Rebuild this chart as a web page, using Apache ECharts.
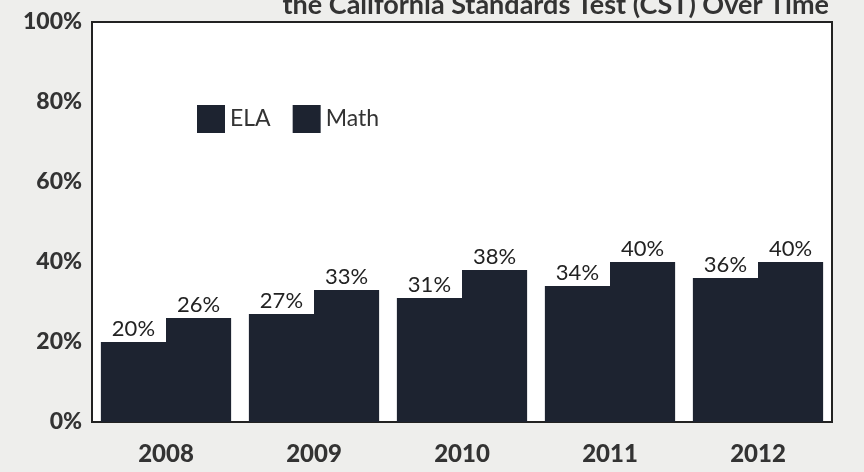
<!DOCTYPE html>
<html>
<head>
<meta charset="utf-8">
<script src="https://cdn.jsdelivr.net/npm/echarts@6/dist/echarts.min.js"></script>
<style>
  html, body { margin: 0; padding: 0; background: #eeeeec; }
  #chart { width: 864px; height: 472px; }
</style>
</head>
<body>
<div id="chart"></div>
<script>
// CST の推移（ELA / Math）
const years = ['2008', '2009', '2010', '2011', '2012'];
const elaValues = [20, 27, 31, 34, 36];
const mathValues = [26, 33, 38, 40, 40];
const yTicks = ['0%', '20%', '40%', '60%', '80%', '100%'];

const chart = echarts.init(document.getElementById('chart'));
const barColor = '#1d2330';
const font = 'Lato, "Open Sans", sans-serif';

const labelStyle = {
  show: true,
  position: 'top',
  distance: 2,
  formatter: '{c}%',
  color: '#222',
  fontSize: 22,
  fontFamily: font
};

const option = {
  backgroundColor: '#eeeeec',
  title: {
    text: 'the California Standards Test (CST) Over Time',
    right: 30,
    top: -13,
    textStyle: { fontSize: 27, fontWeight: 'bold', color: '#333', fontFamily: font }
  },
  legend: {
    data: ['ELA', 'Math'],
    left: 192,
    top: 100,
    itemWidth: 28,
    itemHeight: 28,
    itemGap: 22,
    icon: 'rect',
    textStyle: { fontSize: 23, color: '#333', fontFamily: font }
  },
  grid: {
    left: 92,
    right: 32,
    top: 22,
    bottom: 50,
    show: true,
    backgroundColor: '#ffffff',
    borderColor: '#222',
    borderWidth: 2
  },
  xAxis: {
    type: 'category',
    data: years,
    axisLine: { show: false },
    axisTick: { show: false },
    axisLabel: { fontSize: 24, fontWeight: 900, color: '#333', fontFamily: font, margin: 20 }
  },
  yAxis: {
    type: 'value',
    min: 0,
    max: 100,
    interval: 20,
    splitLine: { show: false },
    axisLine: { show: false },
    axisTick: { show: false },
    axisLabel: {
      fontSize: 23,
      fontWeight: 900,
      color: '#333',
      fontFamily: font,
      margin: 10,
      formatter: v => yTicks[v / 20]
    }
  },
  series: [
    {
      name: 'ELA',
      type: 'bar',
      data: elaValues,
      barGap: '0%',
      barCategoryGap: '12%',
      itemStyle: { color: barColor },
      label: labelStyle
    },
    {
      name: 'Math',
      type: 'bar',
      data: mathValues,
      itemStyle: { color: barColor },
      label: labelStyle
    }
  ]
};

chart.setOption(option);
</script>
</body>
</html>
